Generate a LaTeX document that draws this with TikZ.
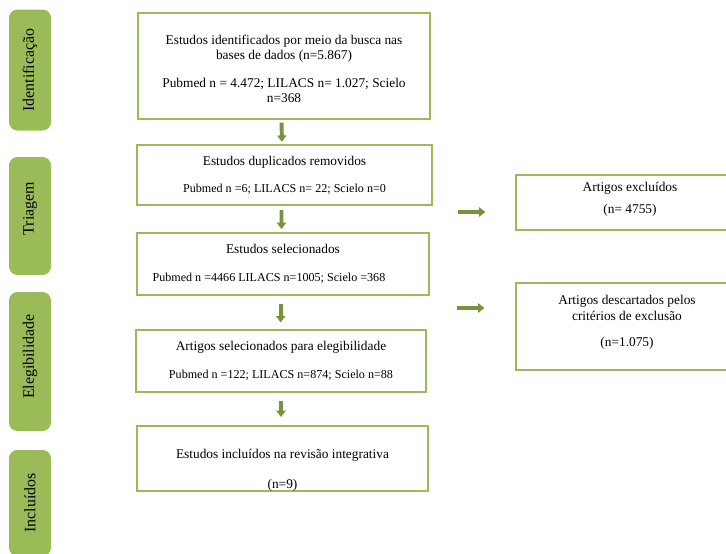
\documentclass[tikz,border=0pt]{standalone}
\usepackage{fontspec}
\setmainfont{Liberation Serif}
\usetikzlibrary{arrows.meta}
\definecolor{phasegreen}{HTML}{9BBB59}
\definecolor{arrowgreen}{HTML}{77933C}
\tikzstyle{phase} = [rectangle, rounded corners=6pt, fill=phasegreen, rotate=90, font=\fontsize{11.3}{13}\selectfont, inner sep=0pt]
\tikzstyle{stage} = [rectangle, draw=phasegreen, line width=1.4pt, fill=white, align=center, font=\fontsize{9.5}{11}\selectfont, inner sep=0pt]
\tikzstyle{arrow} = [line width=2.8pt, draw=arrowgreen, -{Triangle[width=6.5pt,length=4.5pt]}]
\newcommand{\smalltxt}{\fontsize{8.6}{11}\selectfont}

\begin{document}
\begin{tikzpicture}[x=0.025cm, y=-0.025cm]
    \useasboundingbox (0,0) rectangle (726,554);
    % Phases
    \node[phase, minimum width=121*0.025cm, minimum height=42*0.025cm] (id) at (30,70) {Identificação};
    \node[phase, minimum width=118*0.025cm, minimum height=42*0.025cm] (tr) at (30,216) {\hspace*{10.6pt}Triagem};
    \node[phase, minimum width=139*0.025cm, minimum height=42*0.025cm] (el) at (30,361.5) {\hspace*{7pt}Elegibilidade};
    \node[phase, minimum width=106*0.025cm, minimum height=42*0.025cm] (in) at (30,503) {Incluídos};

    % Stages
    \node[stage, minimum width=292*0.025cm, minimum height=106*0.025cm] (b1) at (284,66)
        {\rule{0pt}{10.9pt}Estudos identificados por meio da busca nas\\bases de dados (n=5.867)\\[8.4pt]Pubmed n = 4.472; LILACS n= 1.027; Scielo\\n=368};
    \node[stage, minimum width=295*0.025cm, minimum height=60*0.025cm] (b2) at (284.5,175)
        {Estudos duplicados removidos\\[8.4pt]{\smalltxt Pubmed n =6; LILACS n= 22; Scielo n=0}};
    \node[stage, minimum width=292*0.025cm, minimum height=62*0.025cm] (b3) at (283,264)
        {Estudos selecionados\\[9.3pt]{\smalltxt Pubmed n =4466 LILACS n=1005; Scielo =368}\hspace*{20pt}};
    \node[stage, minimum width=290*0.025cm, minimum height=62*0.025cm] (b4) at (281,361)
        {Artigos selecionados para elegibilidade\\[8.7pt]{\smalltxt Pubmed n =122; LILACS n=874; Scielo n=88}};
    \node[stage, minimum width=291*0.025cm, minimum height=59*0.025cm] (b5) at (282.5,458.5)
        {\rule{0pt}{23pt}Estudos incluídos na revisão integrativa\\[10.3pt](n=9)};
    \node[stage, minimum width=228*0.025cm, minimum height=55*0.025cm] (x1) at (630,202.5)
        {Artigos excluídos\\[4.9pt](n= 4755)\rule[-6.3pt]{0pt}{6.3pt}};
    \node[stage, minimum width=222*0.025cm, minimum height=87*0.025cm] (x2) at (627,326.5)
        {Artigos descartados pelos\\critérios de exclusão\\[7.5pt](n=1.075)\rule[-7.7pt]{0pt}{7.7pt}};

    % Arrows
    \coordinate (s1) at (458,212);
    \coordinate (e1) at (485.5,212);
    \coordinate (s2) at (457,308);
    \coordinate (e2) at (484.5,308);
    \draw[arrow, shorten <=1.9pt, shorten >=1.6pt] ([xshift=-2.5*0.025cm]b1.south) -- ([xshift=-2.5*0.025cm]b2.north);
    \draw[arrow, shorten <=3pt, shorten >=2.1pt] ([xshift=-3*0.025cm]b2.south) -- ([xshift=-1.5*0.025cm]b3.north);
    \draw[arrow, shorten <=5.4pt, shorten >=4.7pt] ([xshift=-2.3*0.025cm]b3.south) -- ([xshift=-0.3*0.025cm]b4.north);
    \draw[arrow, shorten <=5.6pt, shorten >=5.6pt] (b4.south) -- ([xshift=-1.5*0.025cm]b5.north);
    \draw[arrow] (s1) -- (e1);
    \draw[arrow] (s2) -- (e2);
\end{tikzpicture}
\end{document}
